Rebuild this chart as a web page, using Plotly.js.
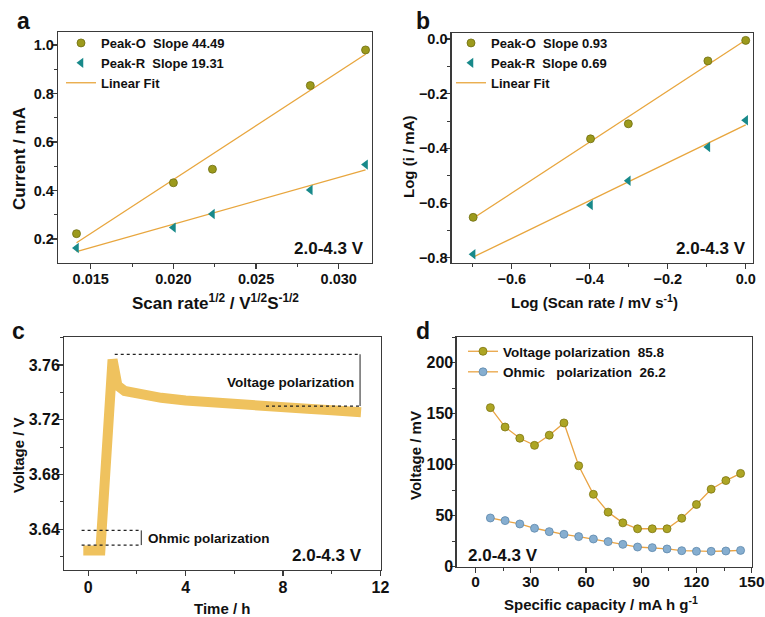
<!DOCTYPE html>
<html>
<head>
<meta charset="utf-8">
<script src="https://cdn.plot.ly/plotly-3.0.1.min.js"></script>
<style>body{margin:0;padding:0;background:#fff}#chart{width:765px;height:617px}</style>
</head>
<body>
<div id="chart"></div>
<script>
// ---------- Panel a data ----------
const aScanRateSqrt = [0.01414, 0.02000, 0.02236, 0.02828, 0.03162];
const aPeakO = [0.222, 0.432, 0.488, 0.833, 0.980];
const aPeakR = [0.163, 0.247, 0.303, 0.402, 0.507];
const aLabels = ['Peak-O\u00A0\u00A0Slope 44.49', 'Peak-R\u00A0\u00A0Slope 19.31', 'Linear Fit'];

// ---------- Panel b data ----------
const bLogScanRate = [-0.699, -0.398, -0.301, -0.097, 0.000];
const bPeakO = [-0.652, -0.365, -0.310, -0.080, -0.005];
const bPeakR = [-0.787, -0.607, -0.518, -0.395, -0.297];
const bLabels = ['Peak-O\u00A0\u00A0Slope 0.93', 'Peak-R\u00A0\u00A0Slope 0.69', 'Linear Fit'];

// ---------- Panel c data ----------
const cTime = [-0.2, 0.5, 1.0, 1.08, 1.2, 1.5, 2, 3, 4, 5, 6, 7, 8, 9, 10, 11.2];
const cVoltage = [3.6245, 3.6245, 3.764, 3.756, 3.745, 3.741, 3.739, 3.736, 3.734, 3.7325, 3.731, 3.730, 3.729, 3.728, 3.727, 3.7255];

// ---------- Panel d data ----------
const dCapacity = [8, 16, 24, 32, 40, 48, 56, 64, 72, 80, 88, 96, 104, 112, 120, 128, 136, 144];
const dVoltagePol = [156, 137, 126, 119, 129, 141, 99, 71, 53.5, 43, 37.2, 37.2, 37.2, 47.5, 61, 76, 84.5, 91.5];
const dOhmicPol = [47.8, 45.2, 41.9, 37.7, 34.4, 31.8, 29.5, 27.2, 24.6, 21.9, 19.3, 18.7, 17.4, 15.7, 15.1, 15.1, 15.4, 16.0];
const dLabels = ['Voltage polarization\u00A0\u00A085.8', 'Ohmic\u00A0\u00A0\u00A0polarization\u00A0\u00A026.2'];

const rangeLabel = '2.0-4.3 V';

// ---------- helpers ----------
function linfit(x, y) {
  const n = x.length;
  const mx = x.reduce((s, v) => s + v, 0) / n;
  const my = y.reduce((s, v) => s + v, 0) / n;
  let sxy = 0, sxx = 0;
  for (let i = 0; i < n; i++) { sxy += (x[i] - mx) * (y[i] - my); sxx += (x[i] - mx) ** 2; }
  const k = sxy / sxx, b = my - k * mx;
  const xs = [x[0], x[n - 1]];
  return { x: xs, y: xs.map(v => k * v + b) };
}

const FONT = 'Liberation Sans, Arial, sans-serif';
const OLIVE = '#9c9a1c';
const TEAL = '#18898a';
const FIT = '#E8A63E';
const BAND = '#EFC25E';
const DLINE = '#E9A444';
const DOLIVE = '#ADA524';
const DBLUE = '#86AED0';

const fa = linfit(aScanRateSqrt, aPeakO), fa2 = linfit(aScanRateSqrt, aPeakR);
const fb = linfit(bLogScanRate, bPeakO), fb2 = linfit(bLogScanRate, bPeakR);

const data = [
  // panel a
  {x: fa.x, y: fa.y, xaxis: 'x', yaxis: 'y', mode: 'lines', line: {color: FIT, width: 1.3}, name: aLabels[2], legend: 'legend', legendrank: 3},
  {x: fa2.x, y: fa2.y, xaxis: 'x', yaxis: 'y', mode: 'lines', line: {color: FIT, width: 1.3}, showlegend: false, legend: 'legend'},
  {x: aScanRateSqrt, y: aPeakO, xaxis: 'x', yaxis: 'y', mode: 'markers', name: aLabels[0], legend: 'legend', legendrank: 1,
   marker: {symbol: 'circle', size: 8, color: OLIVE, line: {color: '#6f6d10', width: 0.8}}},
  {x: aScanRateSqrt, y: aPeakR, xaxis: 'x', yaxis: 'y', mode: 'markers', name: aLabels[1], legend: 'legend', legendrank: 2,
   marker: {symbol: 'triangle-left', size: 9, color: TEAL, line: {width: 0}}},
  // panel b
  {x: fb.x, y: fb.y, xaxis: 'x2', yaxis: 'y2', mode: 'lines', line: {color: FIT, width: 1.3}, name: bLabels[2], legend: 'legend2', legendrank: 3},
  {x: fb2.x, y: fb2.y, xaxis: 'x2', yaxis: 'y2', mode: 'lines', line: {color: FIT, width: 1.3}, showlegend: false, legend: 'legend2'},
  {x: bLogScanRate, y: bPeakO, xaxis: 'x2', yaxis: 'y2', mode: 'markers', name: bLabels[0], legend: 'legend2', legendrank: 1,
   marker: {symbol: 'circle', size: 8, color: OLIVE, line: {color: '#6f6d10', width: 0.8}}},
  {x: bLogScanRate, y: bPeakR, xaxis: 'x2', yaxis: 'y2', mode: 'markers', name: bLabels[1], legend: 'legend2', legendrank: 2,
   marker: {symbol: 'triangle-left', size: 9, color: TEAL, line: {width: 0}}},
  // panel c
  {x: cTime, y: cVoltage, xaxis: 'x3', yaxis: 'y3', mode: 'lines', line: {color: BAND, width: 10}, showlegend: false},
  // panel d
  {x: dCapacity, y: dVoltagePol, xaxis: 'x4', yaxis: 'y4', mode: 'lines+markers', name: dLabels[0], legend: 'legend4',
   line: {color: DLINE, width: 1.3}, marker: {symbol: 'circle', size: 8, color: DOLIVE, line: {color: '#7d7612', width: 0.8}}},
  {x: dCapacity, y: dOhmicPol, xaxis: 'x4', yaxis: 'y4', mode: 'lines+markers', name: dLabels[1], legend: 'legend4',
   line: {color: DLINE, width: 1.3}, marker: {symbol: 'circle', size: 8, color: DBLUE, line: {color: '#5d88ac', width: 0.8}}}
];

function ax(domain, range, dtick, minorDtick, anchor, tickSize, fmt, tick0, standoff) {
  return {
    domain: domain, range: range, anchor: anchor, dtick: dtick, tick0: tick0 || 0,
    tickformat: fmt || '', tickprefix: '<b>', ticksuffix: '</b>',
    ticklabelstandoff: standoff || 0, ticklabeloverflow: 'allow',
    showline: true, mirror: true, linecolor: '#3a3a3a', linewidth: 1.3,
    ticks: 'outside', ticklen: 5, tickwidth: 1.2, tickcolor: '#3a3a3a',
    minor: {dtick: minorDtick, ticks: 'outside', ticklen: 3, tickwidth: 1, tickcolor: '#3a3a3a', showgrid: false},
    showgrid: false, zeroline: false,
    tickfont: {family: FONT, size: tickSize, color: '#111', weight: 'bold'}
  };
}

const W = 765, H = 617;
const px = v => v / W, py = v => 1 - v / H;

function note(text, x, y, size, opts) {
  return Object.assign({text: text, x: px(x), y: py(y), xref: 'paper', yref: 'paper', xanchor: 'center', yanchor: 'middle',
    showarrow: false, font: {family: FONT, size: size, weight: 'bold', color: '#111'}}, opts || {});
}

const legendFont = {family: FONT, size: 13, color: '#111', weight: 'bold'};

const layout = {
  width: W, height: H, margin: {l: 0, r: 0, t: 0, b: 0},
  paper_bgcolor: '#fff', plot_bgcolor: '#fff',
  font: {family: FONT, color: '#111'},
  xaxis: ax([px(58), px(372)], [0.01302, 0.03201], 0.005, 0.0025, 'y', 14.5, '.3f', 0.015, -3),
  yaxis: ax([1 - 263 / H, 1 - 32 / H], [0.101, 1.054], 0.2, 0.1, 'x', 14.5, '.1f', 0, -5),
  xaxis2: ax([px(451.7), px(753)], [-0.754, 0.0187], 0.2, 0.1, 'y2', 14.5, '.1f', 0, -3),
  yaxis2: ax([1 - 263 / H, 1 - 33 / H], [-0.819, 0.022], 0.2, 0.1, 'x2', 14.5, '.1f', 0, -5),
  xaxis3: ax([px(64.3), px(381)], [-0.98, 12.02], 4, 2, 'y3', 16, '', 0, -3),
  yaxis3: ax([1 - 570 / H, 1 - 337.3 / H], [3.6103, 3.7802], 0.04, 0.02, 'x3', 16, '.2f', 0, -5),
  xaxis4: ax([px(456.7), px(752)], [-10.3, 150.2], 30, 15, 'y4', 15.5, '', 0, -5),
  yaxis4: ax([1 - 566.7 / H, 1 - 337.3 / H], [0, 225], 50, 25, 'x4', 16, '', 0, -6),
  legend: {x: px(61), y: py(28), xanchor: 'left', yanchor: 'top', bgcolor: 'rgba(0,0,0,0)', tracegroupgap: 0,
           font: legendFont, itemwidth: 30},
  legend2: {x: px(451), y: py(28), xanchor: 'left', yanchor: 'top', bgcolor: 'rgba(0,0,0,0)', tracegroupgap: 0,
            font: legendFont, itemwidth: 30},
  legend4: {x: px(463), y: py(336), xanchor: 'left', yanchor: 'top', bgcolor: 'rgba(0,0,0,0)', tracegroupgap: 0,
            font: {family: FONT, size: 13.5, color: '#111', weight: 'bold'}, itemwidth: 30},
  shapes: [
    // panel c: voltage polarization marker
    {type: 'line', xref: 'x3', yref: 'y3', x0: 1.09, x1: 11.16, y0: 3.7678, y1: 3.7678, line: {color: '#222', width: 1.2, dash: 'dot'}},
    {type: 'line', xref: 'x3', yref: 'y3', x0: 7.3, x1: 11.16, y0: 3.7300, y1: 3.7300, line: {color: '#222', width: 1.2, dash: 'dot'}},
    {type: 'line', xref: 'x3', yref: 'y3', x0: 11.16, x1: 11.16, y0: 3.7300, y1: 3.7678, line: {color: '#222', width: 1}},
    // panel c: ohmic polarization marker
    {type: 'line', xref: 'x3', yref: 'y3', x0: -0.27, x1: 2.12, y0: 3.6392, y1: 3.6392, line: {color: '#222', width: 1.2, dash: 'dot'}},
    {type: 'line', xref: 'x3', yref: 'y3', x0: -0.27, x1: 2.12, y0: 3.6285, y1: 3.6285, line: {color: '#222', width: 1.2, dash: 'dot'}},
    {type: 'line', xref: 'x3', yref: 'y3', x0: 2.18, x1: 2.18, y0: 3.6285, y1: 3.6392, line: {color: '#222', width: 1}}
  ],
  annotations: [
    // panel letters
    note('a', 23, 21, 23), note('b', 423, 21, 23), note('c', 18, 331, 23), note('d', 423, 331, 23),
    // axis titles
    note('Scan rate<sup>1/2</sup> / V<sup>1/2</sup>S<sup>-1/2</sup>', 215, 302, 17),
    note('Current / mA', 19, 159, 17, {textangle: -90}),
    note('Log (Scan rate / mV s<sup>-1</sup>)', 594, 301, 15),
    note('Log (i / mA)', 408, 157, 15, {textangle: -90}),
    note('Time / h', 222, 608, 15),
    note('Voltage / V', 18, 455, 15, {textangle: -90}),
    note('Specific capacity / mA h g<sup>-1</sup>', 601, 603, 15),
    note('Voltage / mV', 415, 455, 15, {textangle: -90}),
    // range labels
    note(rangeLabel, 366, 248, 17, {xanchor: 'right'}),
    note(rangeLabel, 748, 248, 17, {xanchor: 'right'}),
    note(rangeLabel, 364, 555, 17, {xanchor: 'right'}),
    note(rangeLabel, 466, 555, 17, {xanchor: 'left'}),
    // panel c text labels
    {text: 'Voltage polarization', x: 11.0, y: 3.7473, xref: 'x3', yref: 'y3', xanchor: 'right', yanchor: 'middle', showarrow: false, font: {family: FONT, size: 13.5, weight: 'bold', color: '#111'}},
    {text: 'Ohmic polarization', x: 2.38, y: 3.633, xref: 'x3', yref: 'y3', xanchor: 'left', yanchor: 'middle', showarrow: false, font: {family: FONT, size: 13.5, weight: 'bold', color: '#111'}}
  ]
};

Plotly.newPlot('chart', data, layout, {displayModeBar: false, staticPlot: true});
</script>
</body>
</html>
